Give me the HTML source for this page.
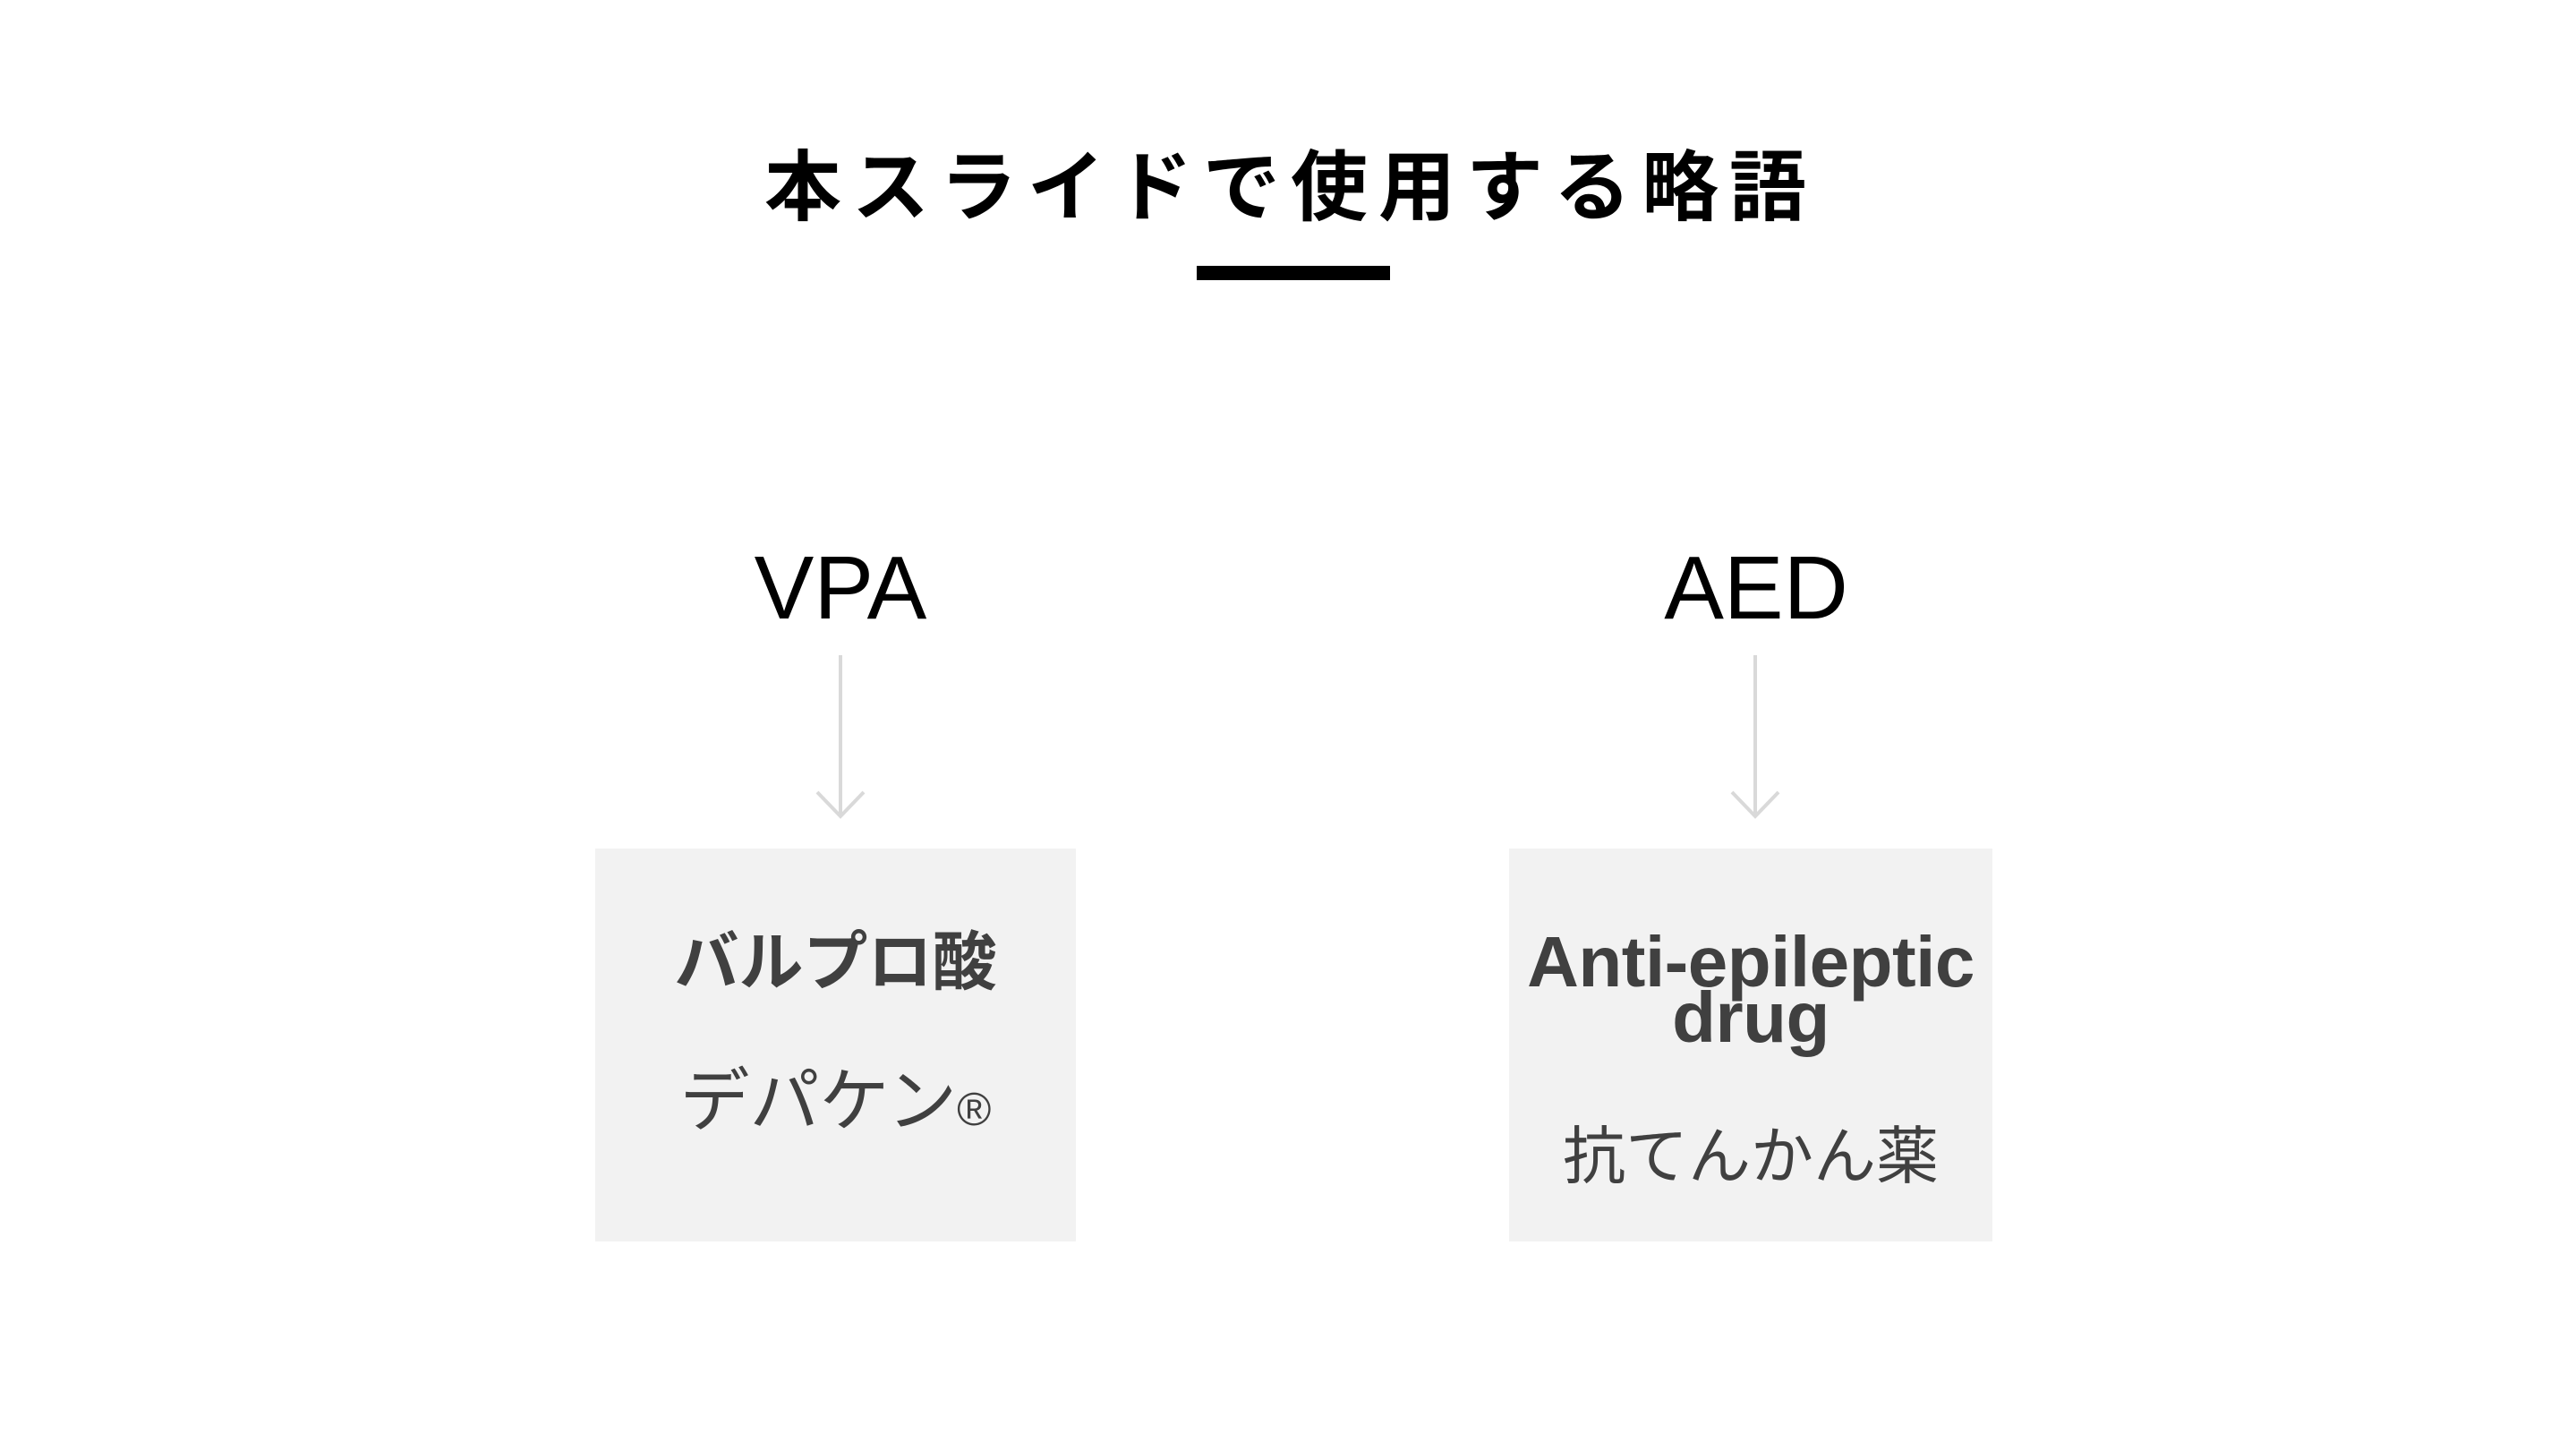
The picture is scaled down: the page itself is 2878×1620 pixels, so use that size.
<!DOCTYPE html>
<html><head><meta charset="utf-8"><style>
body{margin:0;width:2878px;height:1620px;background:#fff;position:relative;overflow:hidden;font-family:"Liberation Sans","Noto Sans CJK JP",sans-serif}
.a{position:absolute;white-space:nowrap}
.box{position:absolute;background:#f2f2f2}
.c{text-align:center;color:#404040}
</style></head><body>
<div class="a" style="left:830px;top:160px;width:1200px;text-align:center;font-size:86px;font-weight:bold;letter-spacing:12px;line-height:100px;color:#000;padding-left:12px">本スライドで使用する略語</div>
<div class="a" style="left:1337px;top:297px;width:216px;height:16px;background:#000"></div>
<div class="a" style="left:739px;top:592px;width:400px;text-align:center;font-size:100px;line-height:130px;color:#000">VPA</div>
<div class="a" style="left:1762px;top:592px;width:400px;text-align:center;font-size:100px;line-height:130px;color:#000">AED</div>
<svg class="a" style="left:0;top:0" width="2878" height="1620">
<g stroke="#d9d9d9" stroke-width="4" fill="none">
<path d="M939 732V912M913 885L939 912L965 885"/>
<path d="M1961 732V912M1935 885L1961 912L1987 885"/>
</g></svg>
<div class="box" style="left:665px;top:948px;width:537px;height:439px"></div>
<div class="box" style="left:1686px;top:948px;width:540px;height:439px"></div>
<div class="a c" style="left:665px;top:1036px;width:537px;font-size:72px;font-weight:bold;line-height:80px">バルプロ酸</div>
<div class="a c" style="left:665px;top:1190px;width:537px;font-size:78px;line-height:80px">デパケン<span style="font-size:52px">®</span></div>
<div class="a c" style="left:1686px;top:1044px;width:540px;font-size:80px;font-weight:bold;line-height:62px;letter-spacing:-0.5px">Anti-epileptic<br>drug</div>
<div class="a c" style="left:1686px;top:1252px;width:540px;font-size:70px;line-height:80px">抗てんかん薬</div>
</body></html>
